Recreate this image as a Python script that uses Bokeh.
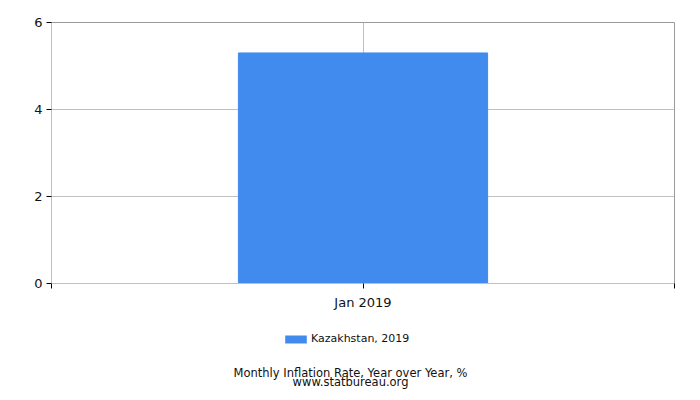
from bokeh.plotting import figure
from bokeh.models import (ColumnDataSource, FixedTicker, Legend, LegendItem,
                          Range1d)
from bokeh.layouts import column
from bokeh.core.properties import value
from bokeh.embed import file_html
from bokeh.resources import INLINE

categories = ["Jan 2019"]
values = [5.3]
series_name = "Kazakhstan, 2019"
y_ticks = [0, 2, 4, 6]
title_lines = ["Monthly Inflation Rate, Year over Year, %", "www.statbureau.org"]
bar_color = "#418BEF"

n = len(categories)
xs = [i + 0.5 for i in range(n)]
src = ColumnDataSource(dict(x=xs, top=values, cat=categories))

W = 684
FL, FR = 51, 674  # frame left/right in page pixels
p = figure(width=W, height=320, output_backend="svg", toolbar_location=None,
           x_range=Range1d(0, n), y_range=Range1d(0, 6),
           min_border_left=FL, min_border_right=W - FR, min_border_top=22,
           min_border_bottom=37)
p.background_fill_color = "white"
p.border_fill_color = "white"
p.outline_line_color = "#9a9a9a"

p.vbar(x="x", top="top", width=0.4, source=src, color=bar_color)

p.xaxis.ticker = FixedTicker(ticks=[0] + xs + [n])
p.xaxis.major_label_overrides = {0: "", n: "", **{x: c for x, c in zip(xs, categories)}}
p.yaxis.ticker = FixedTicker(ticks=y_ticks)
for ax in (p.xaxis[0], p.yaxis[0]):
    ax.axis_line_color = "#c0c0c0"
    ax.major_tick_line_color = "black"
    ax.major_tick_out = 5
    ax.major_tick_in = 0
    ax.minor_tick_line_color = None
    ax.major_label_text_font = "DejaVu Sans"
    ax.major_label_text_color = "#111111"
p.xaxis.major_label_text_font_size = "13px"
p.yaxis.major_label_text_font_size = "13px"
p.xaxis.major_label_standoff = 6
p.yaxis.major_label_standoff = 4

p.xgrid.ticker = FixedTicker(ticks=xs)
p.xgrid.grid_line_color = "#c0c0c0"
p.ygrid.grid_line_color = "#c0c0c0"

# bottom strip: legend and captions (frame is aligned with the chart frame)
H2 = 80
q = figure(width=W, height=H2, output_backend="svg", toolbar_location=None,
           x_range=Range1d(FL, FR), y_range=Range1d(H2, 0),
           min_border_left=FL, min_border_right=W - FR,
           min_border_top=0, min_border_bottom=0,
           x_axis_type=None, y_axis_type=None)
q.outline_line_color = None
q.grid.visible = False
q.background_fill_color = "white"
q.border_fill_color = "white"
lr = q.vbar(x=[FL], top=[0], width=1, fill_color=bar_color, line_alpha=0)
lr.visible = False

legend = Legend(items=[LegendItem(label=series_name, renderers=[lr])],
                location=(282 - FL, 55), orientation="horizontal",
                glyph_width=27, glyph_height=10, label_standoff=2,
                padding=0, margin=0, spacing=0,
                border_line_alpha=0, background_fill_alpha=0,
                label_text_font="DejaVu Sans", label_text_font_size="11px",
                label_text_color="#111111", label_height=10)
q.add_layout(legend, "center")

q.text(x=[350, 350], y=[52, 61], text=title_lines,
       text_align="center", text_baseline="alphabetic",
       text_font=value("DejaVu Sans"), text_font_size="11.5px",
       text_color="#111111")

layout = column(p, q, spacing=0)
open("out.html", "w").write(file_html(layout, INLINE))
